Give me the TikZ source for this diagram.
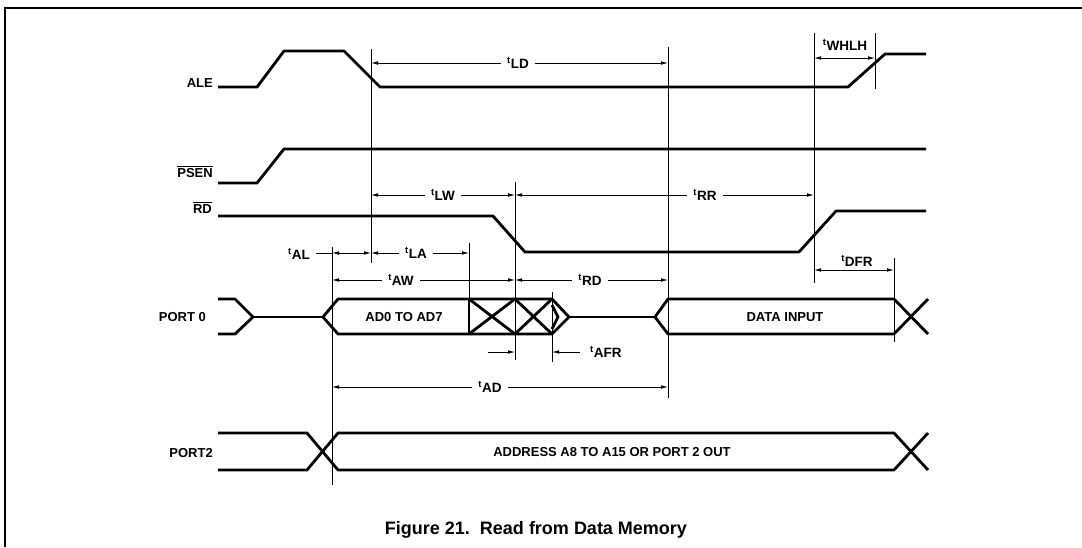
\documentclass[tikz,border=0pt]{standalone}
\usepackage{fontspec}
\setmainfont{Liberation Sans}
\usetikzlibrary{arrows.meta}
\newcommand{\tsym}[1]{\textsuperscript{t}#1}
\newcommand{\barsig}[1]{$\overline{\mbox{#1}}$}
\tikzset{
  sig/.style={line width=2.8pt, line join=round},
  refl/.style={line width=0.9pt},
  dim/.style={line width=0.8pt, {Latex[length=7pt,width=3.6pt]}-{Latex[length=7pt,width=3.6pt]}},
  lead/.style={line width=0.8pt, -{Latex[length=7pt,width=3.6pt]}},
  sigtext/.style={font=\fontsize{13}{13}\selectfont\bfseries, inner sep=0pt},
  tname/.style={font=\fontsize{13.5}{13.5}\selectfont\bfseries, fill=white, inner xsep=6pt, inner ysep=1pt},
}
\begin{document}
\begin{tikzpicture}[x=1pt,y=-1pt]
\useasboundingbox (0,0) rectangle (1082,547);
% Frame
\draw[line width=1.2pt] (1082,8) -- (5,8) -- (5,547);
% Signal names
\node[sigtext, anchor=base east] (ale) at (213,87) {ALE};
\node[sigtext, anchor=base east] (psen) at (213,177) {\barsig{PSEN}};
\node[sigtext, anchor=base east] (rd) at (212,213) {\barsig{RD}};
\node[sigtext, anchor=east] (port0) at (206,317) {PORT 0};
\node[sigtext, anchor=east] (port2) at (213,453) {PORT2};
% Drawing waveforms
% ALE
\draw[sig] (218,87) -- (257,87) -- (284,51) -- (344,51) -- (380,87) -- (848,87) -- (885,54) -- (926,54);
% PSEN
\draw[sig] (218,183) -- (257,183) -- (284,149) -- (926,149);
% RD
\draw[sig] (218,216) -- (493,216) -- (525,252) -- (799,252) -- (836,211) -- (926,211);
% PORT 0
\draw[sig] (218,299) -- (235,299) -- (253,317) -- (235,334) -- (218,334);
\draw[sig] (253,317) -- (323,317);
\draw[sig] (323,317) -- (338,299) -- (552,299) -- (569,317) -- (552,334) -- (338,334) -- cycle;
\draw[sig] (469,299) -- (469,334);
\draw[sig] (469,299) -- (515,334) (469,334) -- (515,299);
\draw[sig] (515,299) -- (552,334) (515,334) -- (552,299);
\draw[sig] (552,305) -- (558,317) -- (552,329);
\draw[sig] (569,317) -- (655,317);
\draw[sig] (655,317) -- (668,299) -- (894,299) -- (928,334);
\draw[sig] (655,317) -- (668,334) -- (894,334) -- (928,299);
\node[sigtext] (ad) at (404,317) {AD0 TO AD7};
\node[sigtext] (din) at (785,317) {DATA INPUT};
% PORT 2
\draw[sig] (218,433) -- (307,433) -- (338,470) -- (894,470) -- (928,433);
\draw[sig] (218,470) -- (307,470) -- (338,433) -- (894,433) -- (928,470);
\node[sigtext] (addr) at (612,452) {ADDRESS A8 TO A15 OR PORT 2 OUT};
% Done with waveforms; drawing reference lines
\draw[refl] (371,49) -- (371,263);
\draw[refl] (515,182) -- (515,360);
\draw[refl] (668,47) -- (668,398);
\draw[refl] (814,33) -- (814,283);
\draw[refl] (875,33) -- (875,89);
\draw[refl] (332,247) -- (332,485);
\draw[refl] (469,243) -- (469,299);
\draw[refl] (552,292) -- (552,362);
\draw[refl] (894,258) -- (894,342);
% Timing end points
\coordinate (ldA) at (371,63);   \coordinate (ldB) at (668,63);
\coordinate (whA) at (814,58);   \coordinate (whB) at (875,58);
\coordinate (lwA) at (371,195);  \coordinate (lwB) at (515,195);
\coordinate (rrA) at (515,195);  \coordinate (rrB) at (814,195);
\coordinate (alA) at (332,253);  \coordinate (alB) at (371,253);
\coordinate (laA) at (371,253);  \coordinate (laB) at (469,253);
\coordinate (awA) at (332,280);  \coordinate (awB) at (515,280);
\coordinate (rdA) at (515,280);  \coordinate (rdB) at (668,280);
\coordinate (dfA) at (814,270);  \coordinate (dfB) at (894,270);
\coordinate (adA) at (332,387);  \coordinate (adB) at (668,387);
\coordinate (afA) at (488,352);  \coordinate (afB) at (515,352);
\coordinate (afC) at (580,352);  \coordinate (afD) at (552,352);
% Timing arrows
\draw[dim] (ldA) -- (ldB);
\draw[dim] (whA) -- (whB);
\draw[dim] (lwA) -- (lwB);
\draw[dim] (rrA) -- (rrB);
\draw[dim] (alA) -- (alB);
\draw[dim] (laA) -- (laB);
\draw[dim] (awA) -- (awB);
\draw[dim] (rdA) -- (rdB);
\draw[dim] (dfA) -- (dfB);
\draw[dim] (adA) -- (adB);
\draw[lead] (afA) -- (afB);
\draw[lead] (afC) -- (afD);
% Timing names
\node[tname] (tld) at (518,63) {\tsym{LD}};
\node[tname, fill=none] (twhlh) at (845,45) {\tsym{WHLH}};
\node[tname] (tlw) at (443,195) {\tsym{LW}};
\node[tname] (trr) at (705,195) {\tsym{RR}};
\node[tname, fill=none, anchor=east] (tal) at (316,254) {\tsym{AL}};
\draw[refl] (tal.east) ++(0,-1) -- (alA);
\node[tname] (tla) at (416,253) {\tsym{LA}};
\node[tname] (taw) at (401,280) {\tsym{AW}};
\node[tname] (trd) at (590,280) {\tsym{RD}};
\node[tname, fill=none] (tdfr) at (857,261) {\tsym{DFR}};
\node[tname] (tad) at (490,387) {\tsym{AD}};
\node[tname, fill=none, anchor=west] (tafr) at (584,352) {\tsym{AFR}};
% Caption
\node[font=\fontsize{18}{18}\selectfont\bfseries] (cap) at (536,530) {Figure 21.\ \ Read from Data Memory};
\end{tikzpicture}
\end{document}
